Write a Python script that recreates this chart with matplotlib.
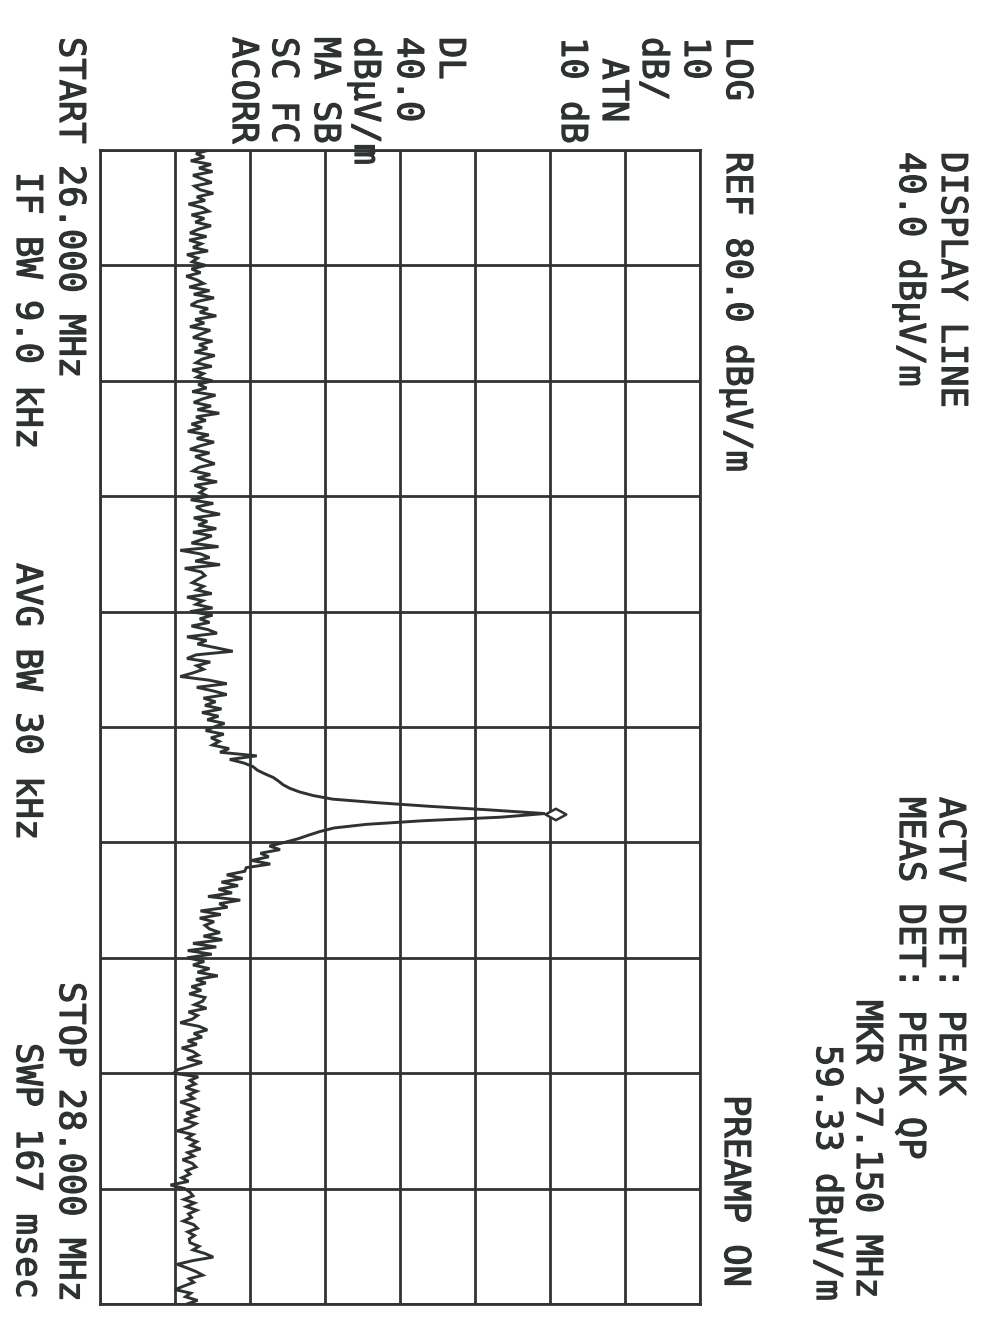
import numpy as np
import matplotlib
matplotlib.use("Agg")
import matplotlib.pyplot as plt
import matplotlib.patheffects as pe
from matplotlib.path import Path

# sweep settings
freq_start = 26.0   # MHz
freq_stop = 28.0    # MHz
ref_level = 80.0    # dBuV/m
db_per_div = 10
n_amp_div = 8
n_freq_div = 10

# trace readings (dBuV/m), one list per 0.2 MHz division
div0 = [14.6, 12.8, 13.9, 12.1, 14.8, 13.2, 15.0, 12.4, 13.6, 14.9, 12.6, 13.3, 15.1, 12.9, 14.0, 11.8,
        13.7, 14.5, 12.2, 13.9, 12.7, 14.8, 13.1, 12.0, 14.2, 11.9, 13.5, 12.4, 14.4, 11.6, 13.0, 12.3]
div1 = [14.1, 12.2, 13.4, 11.5, 12.9, 13.8, 11.9, 14.6, 12.5, 15.2, 13.0, 12.1, 14.4, 13.3, 15.5, 12.7,
        13.9, 12.0, 14.7, 13.5, 12.4, 15.0, 13.2, 14.3, 12.6, 15.3, 13.6, 12.8, 14.9, 12.3, 13.8, 12.9]
div2 = [15.0, 13.1, 14.2, 12.3, 15.4, 13.7, 12.5, 14.8, 13.0, 15.9, 12.8, 14.1, 12.2, 13.6, 11.7, 14.5,
        12.9, 15.2, 13.4, 12.0, 14.6, 12.7, 13.9, 15.3, 13.2, 12.4, 14.7, 13.0, 15.6, 12.6, 14.0, 13.3]
div3 = [14.4, 12.1, 15.1, 12.8, 13.7, 16.0, 12.5, 14.3, 13.1, 15.5, 12.4, 14.9, 13.6, 12.2, 15.8, 10.7,
        13.4, 14.6, 12.7, 16.0, 11.3, 13.5, 14.0, 13.1, 12.3, 13.8, 12.9, 14.9, 11.6, 13.7, 12.8, 15.0]
div4 = [12.0, 15.0, 13.3, 14.6, 12.2, 14.4, 15.6, 11.6, 14.2, 13.0, 15.4, 17.7, 12.8, 11.6, 14.7, 12.9,
        13.8, 12.4, 10.7, 14.5, 16.9, 12.9, 15.1, 16.9, 13.8, 15.4, 14.0, 16.2, 13.6, 15.8, 14.3, 16.6]
div5 = [15.2, 14.1, 16.5, 14.8, 15.9, 15.0, 17.2, 16.0, 20.9, 17.3, 19.2, 20.4, 21.0, 22.0, 23.1, 23.8,
        24.4, 25.3, 26.6, 28.4, 31.0, 37.0, 44.0, 52.0, 59.33, 53.5, 43.0, 35.5, 31.2, 29.3, 27.8, 26.4]
div6 = [24.6, 22.6, 24.0, 21.4, 22.5, 20.2, 22.7, 19.5, 19.3, 16.9, 19.0, 16.2, 18.4, 15.8, 17.6, 14.4,
        18.7, 15.9, 17.0, 13.4, 16.1, 13.3, 15.2, 14.0, 14.6, 16.0, 13.8, 16.3, 12.4, 15.5, 11.7, 14.9]
div7 = [11.6, 13.9, 12.4, 14.6, 13.0, 15.7, 12.8, 14.1, 12.2, 13.5, 11.9, 14.0, 13.7, 12.6, 14.2, 11.8,
        13.0, 12.3, 10.7, 13.2, 14.3, 12.5, 13.6, 11.7, 12.9, 10.9, 12.4, 13.1, 11.6, 13.6, 12.0, 10.4]
div8 = [9.8, 13.1, 12.0, 12.7, 11.4, 12.9, 11.8, 12.5, 10.7, 12.2, 13.3, 11.5, 12.6, 11.2, 12.8, 11.9,
        10.3, 12.4, 11.6, 12.9, 12.1, 13.4, 11.7, 12.5, 11.0, 12.3, 12.8, 11.5, 12.0, 10.9, 11.8, 9.4]
div9 = [11.3, 12.0, 12.4, 11.2, 12.6, 11.5, 12.9, 11.8, 12.2, 11.1, 12.5, 13.0, 11.7, 12.6, 11.9, 12.0,
        13.2, 12.4, 14.0, 15.1, 12.3, 10.3, 11.6, 12.8, 13.7, 11.9, 12.5, 11.2, 10.0, 12.1, 11.4, 13.0, 11.6]

mkr_freq = 27.150
mkr_level = 59.33

level = np.array(div0 + div1 + div2 + div3 + div4 + div5 + div6 + div7 + div8 + div9)
freq = np.linspace(freq_start, freq_stop, len(level))

W, H = 987, 1333
INK = '#2e3331'
GRID = '#333333'
FS = 25.5

fig = plt.figure(figsize=(W / 100, H / 100), dpi=100)
fig.patch.set_facecolor('white')

# screen is printed rotated: amplitude runs left->right, frequency top->bottom
ax = fig.add_axes([100 / W, 1 - 1304 / H, 600 / W, 1154 / H])
bottom = ref_level - n_amp_div * db_per_div
ax.set_xlim(bottom, ref_level)
ax.set_ylim(freq_stop, freq_start)
ax.set_xticks(np.arange(bottom, ref_level + 1, db_per_div))
ax.set_yticks(np.linspace(freq_start, freq_stop, n_freq_div + 1))
ax.tick_params(length=0, labelbottom=False, labelleft=False)
ax.grid(True, color=GRID, linewidth=2.0)
for sp in ax.spines.values():
    sp.set_color(GRID)
    sp.set_linewidth(2.0)

ax.plot(level, freq, color=INK, linewidth=2.1, solid_joinstyle='miter')

# marker diamond, tip sitting on the peak
diamond = Path([(0, 0), (1, 0.55), (2, 0), (1, -0.55), (0, 0)],
               [Path.MOVETO, Path.LINETO, Path.LINETO, Path.LINETO, Path.CLOSEPOLY])
ax.plot([mkr_level], [mkr_freq], marker=diamond, markersize=30, markerfacecolor='white',
        markeredgecolor=INK, markeredgewidth=1.8, linestyle='none', clip_on=False)

bold = [pe.withStroke(linewidth=0.9, foreground=INK)]


def put(x, y, s):
    # x = left edge of the characters, y = start of the line (pixels)
    fig.text(x / W, 1 - y / H, s, rotation=270, rotation_mode='anchor',
             ha='left', va='baseline', fontsize=FS, family='DejaVu Sans Mono',
             color=INK, path_effects=bold)


put(942, 152, 'DISPLAY LINE')
put(900, 152, '40.0 dBµV/m')
put(940, 797, 'ACTV DET: PEAK')
put(900, 797, 'MEAS DET: PEAK QP')
put(857, 1000, 'MKR 27.150 MHz')
put(817, 1045, '59.33 dBµV/m')

put(727, 37, 'LOG')
put(685, 37, '10')
put(643, 37, 'dB/')
put(603, 37, ' ATN')
put(562, 37, '10 dB')
put(727, 152, 'REF 80.0 dBµV/m')
put(725, 1095, 'PREAMP ON')

put(440, 37, 'DL')
put(398, 37, '40.0')
put(355, 37, 'dBµV/m')
put(315, 37, 'MA SB')
put(273, 37, 'SC FC')
put(233, 37, 'ACORR')

put(60, 37, 'START 26.000 MHz')
put(17, 172, 'IF BW 9.0 kHz')
put(17, 563, 'AVG BW 30 kHz')
put(60, 982, 'STOP 28.000 MHz')
put(17, 1043, 'SWP 167 msec')

fig.savefig('out.png', dpi=100, facecolor='white')
